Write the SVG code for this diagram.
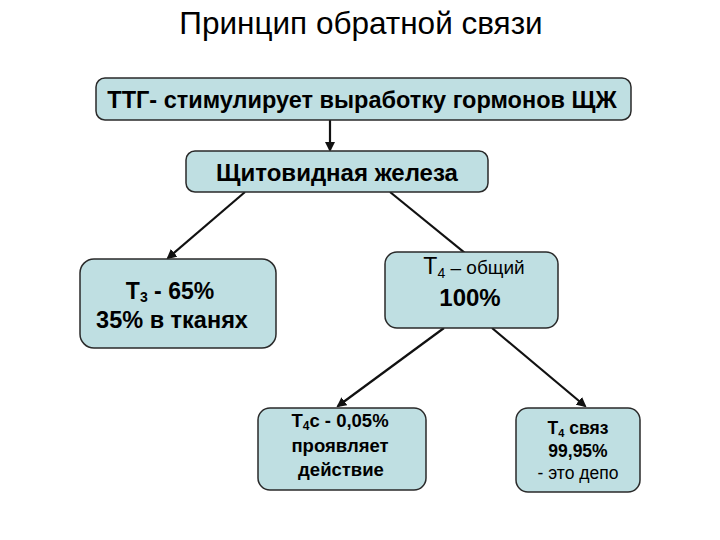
<svg xmlns="http://www.w3.org/2000/svg" width="720" height="540" viewBox="0 0 720 540">
<style>
.box{fill:#bfdfe2;stroke:#2a2a2a;stroke-width:1.5}
.t{font-family:"Liberation Sans",Arial,sans-serif;fill:#000;text-anchor:middle}
.b{font-weight:bold}
.c{stroke:#111;stroke-width:2.2;fill:none}
</style>
<defs>
<marker id="ah" markerWidth="10" markerHeight="10" refX="8" refY="5" orient="auto" markerUnits="userSpaceOnUse"><path d="M0,0 L10,5 L0,10 z" fill="#111"/></marker>
</defs>
<rect width="720" height="540" fill="#fff"/>
<text class="t" x="361" y="34" font-size="31.5">Принцип обратной связи</text>
<g id="connectors">
<line class="c" x1="330" y1="120" x2="330" y2="150" marker-end="url(#ah)"/>
<line class="c" x1="245" y1="192" x2="168" y2="258" marker-end="url(#ah)"/>
<line class="c" x1="390" y1="192" x2="476" y2="262" marker-end="url(#ah)"/>
<line class="c" x1="444" y1="328" x2="338" y2="406" marker-end="url(#ah)"/>
<line class="c" x1="492" y1="328" x2="585" y2="406" marker-end="url(#ah)"/>
</g>
<g id="n1">
<rect class="box" x="96" y="78" width="535" height="42" rx="9"/>
<text class="t b" x="362" y="108" font-size="23.5">ТТГ- стимулирует выработку гормонов ЩЖ</text>
</g>
<g id="n2">
<rect class="box" x="186" y="151" width="302" height="41" rx="9"/>
<text class="t b" x="337" y="181" font-size="24">Щитовидная железа</text>
</g>
<g id="n3">
<rect class="box" x="80" y="259" width="196" height="89" rx="14"/>
<text class="t b" x="170" y="299" font-size="23">Т<tspan font-size="14" dy="3">3</tspan><tspan dy="-3"> - 65%</tspan></text>
<text class="t b" x="172" y="328" font-size="23.5">35% в тканях</text>
</g>
<g id="n4">
<rect class="box" x="385" y="252" width="173" height="76" rx="12"/>
<text class="t" x="474" y="274" font-size="23">Т<tspan font-size="14" dy="4">4</tspan><tspan dy="-4" font-size="19"> – общий</tspan></text>
<text class="t b" x="470" y="306" font-size="24">100%</text>
</g>
<g id="n5">
<rect class="box" x="258" y="408" width="168" height="82" rx="12"/>
<text class="t b" x="340" y="427" font-size="18.5">Т<tspan font-size="12" dy="3">4</tspan><tspan dy="-3">с - 0,05%</tspan></text>
<text class="t b" x="340" y="452" font-size="18.5">проявляет</text>
<text class="t b" x="341" y="476" font-size="18.5">действие</text>
</g>
<g id="n6">
<rect class="box" x="516" y="408" width="124" height="84" rx="12"/>
<text class="t b" x="578" y="434" font-size="17.5">Т<tspan font-size="11" dy="3">4</tspan><tspan dy="-3"> связ</tspan></text>
<text class="t b" x="578" y="457" font-size="17.5">99,95%</text>
<text class="t" x="578" y="479" font-size="17.5">- это депо</text>
</g>
</svg>
